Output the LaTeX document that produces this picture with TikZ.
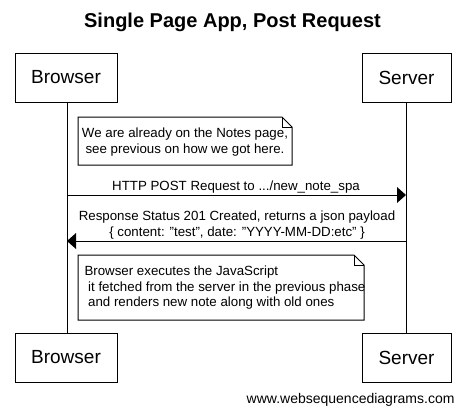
\documentclass[tikz,border=0pt]{standalone}
\usepackage{fontspec}
\setmainfont[Ligatures=NoCommon]{Liberation Sans}
\newcommand{\dq}{\symbol{34}}
\begin{document}
\begin{tikzpicture}[x=1pt,y=-1pt,line width=1pt,
  actor/.style={draw,fill=white,minimum width=102pt,minimum height=49pt,inner sep=0pt,font=\fontsize{19}{22}\selectfont},
  msg/.style={font=\fontsize{13.3}{15.5}\selectfont,inner sep=0pt},
  notetext/.style={font=\fontsize{13.3}{15.5}\selectfont,inner sep=0pt},
  life/.style={line width=1pt},
  arr/.style={line width=1pt},
  head/.style={fill=black,draw=none}]
\useasboundingbox (0,0) rectangle (465,416);
\fill[white] (0,0) rectangle (465,416);
% title
\node[font=\bfseries\fontsize{20}{24}\selectfont] (title) at (232.5,22) {Single Page App, Post Request};
% actors top and bottom
\node[actor] (bt) at (66,77.5) {Browser};
\node[actor,minimum width=89pt] (st) at (406.5,77.5) {Server};
\node[actor] (bb) at (66,357.5) {Browser};
\node[actor,minimum width=89pt] (sb) at (406.5,357.5) {Server};
% lifelines
\draw[life] (bt.south -| 67,0) coordinate (bl1) -- (bb.north -| 67,0) coordinate (bl2);
\draw[life] (st.south -| 406,0) coordinate (sl1) -- (sb.north -| 406,0) coordinate (sl2);
% first note
\draw[fill=white] (78,117) -- (282,117) -- (292,127) -- (292,165) -- (78,165) -- cycle;
\draw (282,117) -- (282,127) -- (292,127);
\node[notetext,align=center] (n1) at (185,142) {We are already on the Notes page,\\ see previous on how we got here.};
% request
\coordinate (a1s) at (67,195);
\coordinate (a1e) at (397,195);
\draw[arr] (a1s) -- (a1e);
\fill[head] (406,195) -- (397,187) -- (397,203) -- cycle;
\node[msg] (m1) at (236,187) {HTTP POST Request to .../new\_note\_spa};
% response
\coordinate (a2s) at (406,241);
\coordinate (a2e) at (76,241);
\draw[arr] (a2s) -- (a2e);
\fill[head] (67,241) -- (76,233) -- (76,249) -- cycle;
\node[msg,align=center] (m2) at (237,225) {Response Status 201 Created, returns a json payload\\ \{ content: \dq test\dq, date: \dq YYYY-MM-DD:etc\dq\ \}};
% second note
\draw[fill=white] (78,255) -- (354,255) -- (364,265) -- (364,320) -- (78,320) -- cycle;
\draw (354,255) -- (354,265) -- (364,265);
\node[notetext,align=left,anchor=west] (n2) at (84,288) {Browser executes the JavaScript\\ \ it fetched from the server in the previous phase\\ \ and renders new note along with old ones};
% footer
\node[font=\fontsize{14}{16}\selectfont,anchor=east,inner sep=0pt] (foot) at (455,400) {www.websequencediagrams.com};
\end{tikzpicture}
\end{document}
